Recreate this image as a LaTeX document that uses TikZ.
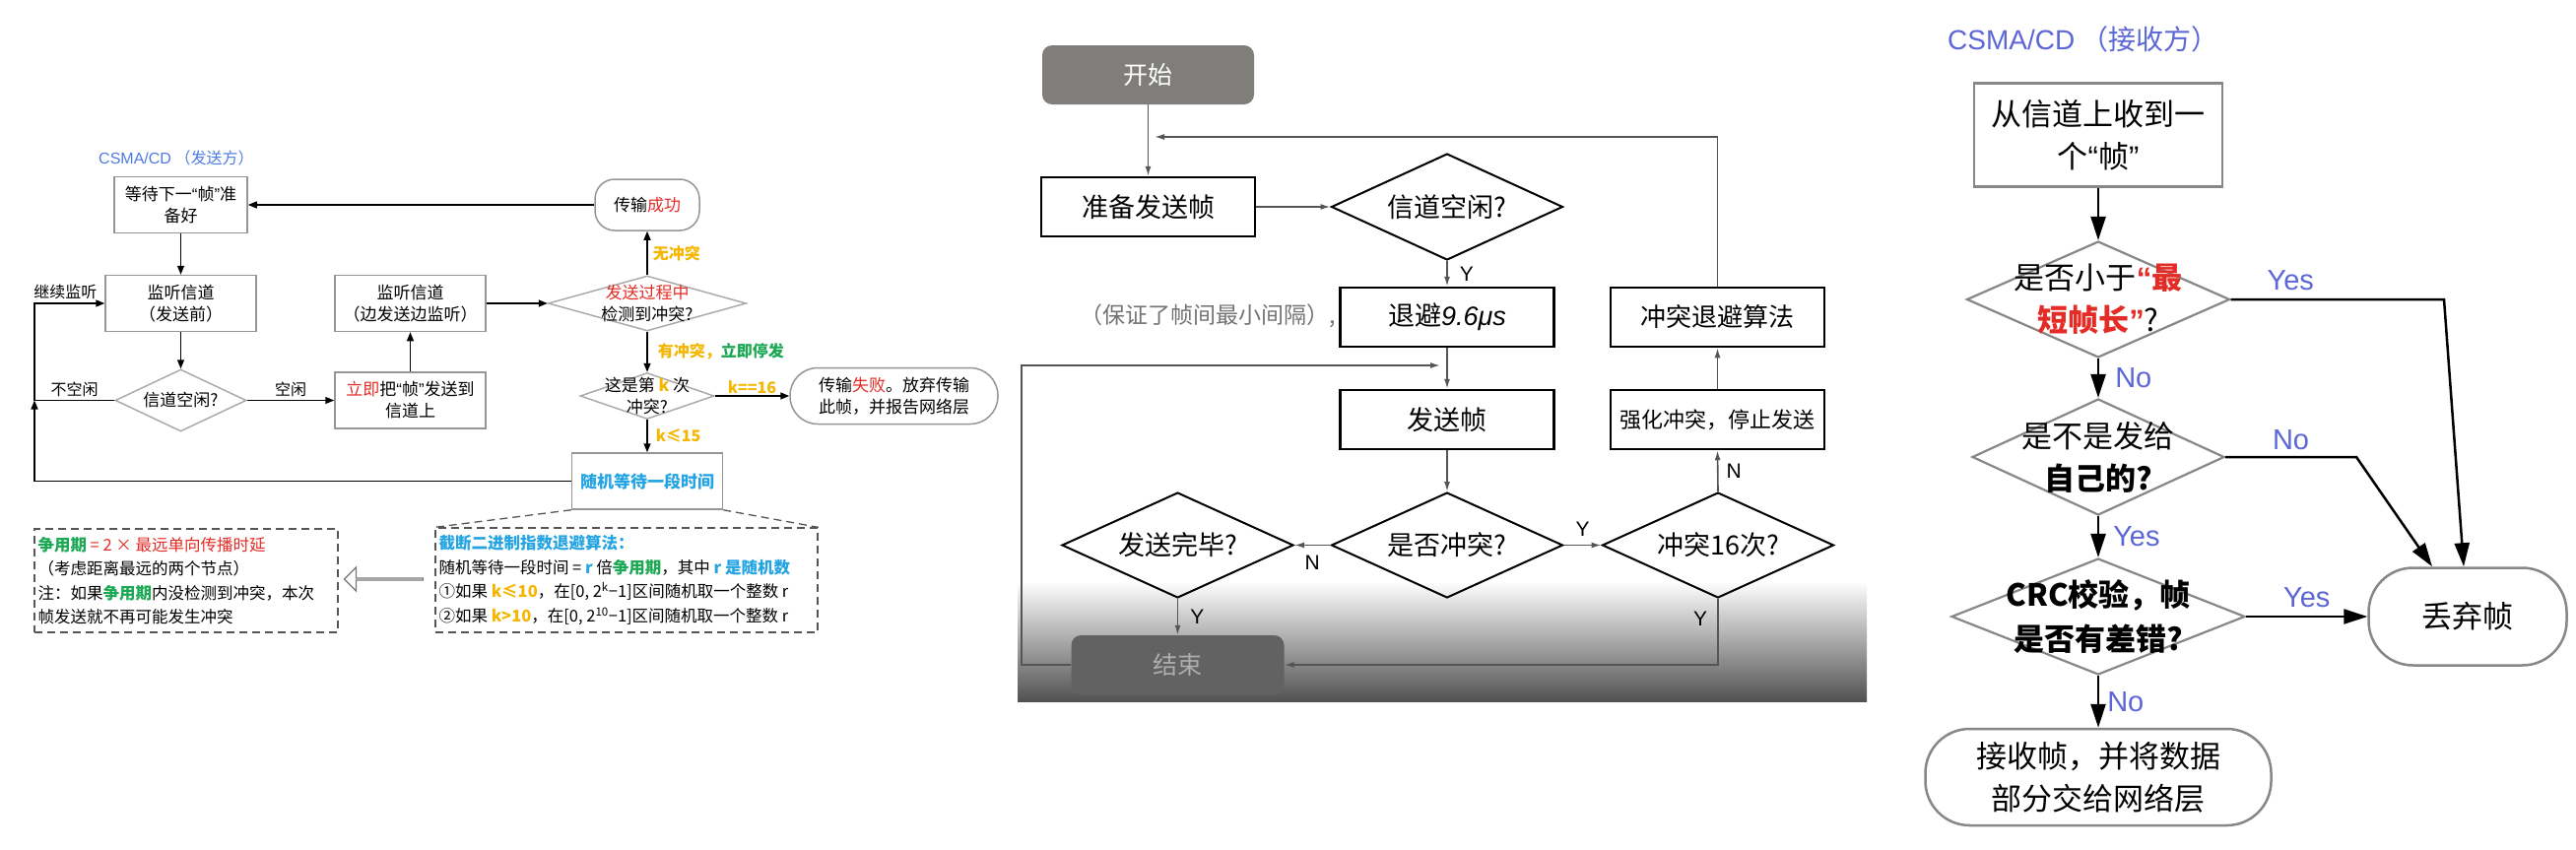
\documentclass[tikz,border=0pt]{standalone}
\usepackage{fontspec}
\setmainfont{Noto Sans CJK SC}
\newfontfamily\latinfont{Liberation Sans}
\usepackage{xcolor}
\usepackage{tikz}
\usetikzlibrary{arrows.meta, shapes.geometric, shapes.arrows}

\definecolor{sendblue}{RGB}{78,122,228}
\definecolor{recvblue}{RGB}{92,102,214}
\definecolor{hiyellow}{RGB}{245,182,0}
\definecolor{higreen}{RGB}{28,168,84}
\definecolor{hired}{RGB}{228,44,38}
\definecolor{hisky}{RGB}{36,164,226}
\definecolor{edgegray}{RGB}{150,150,150}
\definecolor{wiregray}{RGB}{85,85,85}
\definecolor{startgray}{RGB}{128,126,122}
\definecolor{finishgray}{RGB}{98,98,98}

\newcommand{\fs}[2]{\fontsize{#1}{#2}\selectfont}
\newcommand{\qo}{{\latinfont “}}
\newcommand{\qc}{{\latinfont ”}}

\begin{document}
\begin{tikzpicture}[
    x=1pt, y=-1pt,
    % sender panel
    sbox/.style={rectangle, draw=edgegray, line width=1.5pt, minimum width=153pt, minimum height=57pt, inner sep=2pt, align=center, font=\fs{17}{22}},
    sdia/.style={diamond, draw=edgegray!80, line width=1.5pt, inner sep=0pt},
    spill/.style={sbox, rounded corners=#1},
    stxt/.style={align=center, font=\fs{17}{22}},
    dline/.style={draw=wiregray, dash pattern=on 8pt off 5pt, line width=1.3pt},
    snote/.style={rectangle, dline, inner sep=0pt},
    ntxt/.style={align=left, font=\fs{16.5}{24.5}, inner sep=0pt, anchor=west},
    slbl/.style={font=\fs{16}{19}\bfseries, text=hiyellow, inner sep=2pt},
    larr/.style={-{Triangle[length=9pt, width=7pt]}, line width=1.5pt},
    % flow panel
    mbox/.style={rectangle, draw, line width=2.5pt, minimum width=217pt, minimum height=60pt, font=\fs{27}{32}},
    mdia/.style={diamond, draw, line width=2pt, minimum width=235pt, minimum height=107pt, inner sep=0pt},
    mtxt/.style={font=\fs{27}{32}},
    myn/.style={font=\latinfont\fs{21}{24}, inner sep=2pt},
    marr/.style={draw=wiregray, -{Latex[length=10pt, width=6pt]}, line width=1.6pt},
    % receiver panel
    rbox/.style={rectangle, draw=edgegray!90!black, line width=2.5pt, align=center, font=\fs{31}{43}},
    rdia/.style={diamond, draw=edgegray!90!black, line width=2.2pt, inner sep=0pt, minimum height=118pt},
    rtxt/.style={align=center, font=\fs{31}{43}},
    ryn/.style={font=\latinfont\fs{29}{32}, text=recvblue, inner sep=2pt},
    rarr/.style={-{Triangle[length=24pt, width=15pt]}, line width=2.5pt},
]
    % Canvas
    \fill[white] (0,0) rectangle (2615,862);
    \useasboundingbox (0,0) rectangle (2615,862);

    % ===== Sender =====
    \node[font=\fs{16}{19}, text=sendblue, anchor=west, inner sep=0pt] (stitle) at (100,160) {{\latinfont CSMA/CD} （发送方）};

    \node[sbox, minimum width=135pt] (wait) at (183.5,208) {等待下一\qo 帧\qc 准\\备好};
    \node[sbox] (listen) at (183.5,308) {监听信道\\（发送前）};
    \node[sdia, minimum width=133pt, minimum height=63pt, label={[stxt]center:信道空闲?}] (idle) at (183.5,406.5) {};
    \node[sbox] (put) at (416.5,406.5) {{\color{hired}立即}把\qo 帧\qc 发送到\\信道上};
    \node[sbox] (listen2) at (416.5,308) {监听信道\\（边发送边监听）};
    \node[sdia, minimum width=201pt, minimum height=56pt, label={[stxt]center:{{\color{hired}发送过程中}\\检测到冲突?}}] (detect) at (657,308) {};
    \node[spill=20pt, minimum width=106pt, minimum height=52pt] (success) at (657,208) {传输{\color{hired}成功}};
    \node[sdia, minimum width=136pt, minimum height=47pt, label={[stxt]center:{这是第 {\color{hiyellow}\bfseries k} 次\\冲突?}}] (kth) at (657,402) {};
    \node[spill=28pt, minimum width=211pt, minimum height=57pt] (fail) at (907.5,402) {传输{\color{hired}失败}。放弃传输\\此帧，并报告网络层};
    \node[sbox, font=\fs{17}{22}\bfseries, text=hisky] (backoff) at (657,488.5) {随机等待一段时间};
    \coordinate (loopjoin) at (35,406.5);

    % Notes
    \node[snote, minimum width=388pt, minimum height=106pt] (algo) at (636,589) {};
    \node[ntxt] (algotxt) at ([xshift=4pt]algo.west) {{\color{hisky}\bfseries 截断二进制指数退避算法：}\\
        随机等待一段时间 = {\color{hisky}\bfseries r} 倍{\color{higreen}\bfseries 争用期}，其中 {\color{hisky}\bfseries r 是随机数}\\
        ①如果 {\color{hiyellow}\bfseries k≤10}，在[0, 2\textsuperscript{k}−1]区间随机取一个整数 r\\
        ②如果 {\color{hiyellow}\bfseries k>10}，在[0, 2\textsuperscript{10}−1]区间随机取一个整数 r};
    \node[snote, minimum width=308pt, minimum height=105pt] (contend) at (189,589.5) {};
    \node[ntxt] (contendtxt) at ([xshift=4pt]contend.west) {{\color{higreen}\bfseries 争用期} {\color{hired}= 2 × 最远单向传播时延}\\
        （考虑距离最远的两个节点）\\
        注：如果{\color{higreen}\bfseries 争用期}内没检测到冲突，本次\\
        帧发送就不再可能发生冲突};
    \node[single arrow, draw=wiregray!80, line width=1.2pt, shape border rotate=180, minimum height=80pt, minimum width=24pt, single arrow head extend=6pt, single arrow head indent=0pt, inner sep=0pt] (hint) at (390,588) {};

    % Sender arrows
    \draw[larr] (wait) -- (listen);
    \draw[larr] (listen) -- (idle);
    \draw[larr] (idle.east) -- node[stxt, above, font=\fs{16}{19}] {空闲} (put.west);
    \draw[larr] (put) -- (listen2);
    \draw[larr] (listen2.east) -- (detect.west);
    \draw[larr] (detect.north) -- node[slbl, right=3pt] {无冲突} (success.south);
    \draw[larr] (success.west) -- (wait.east);
    \draw[larr] (detect.south) -- node[slbl, right=8pt] {有冲突，{\color{higreen}立即停发}} (kth.north);
    \draw[larr] (kth.east) -- node[slbl, above] {k==16} (fail.west);
    \draw[larr] (kth.south) -- node[slbl, right=6pt] {k≤15} (backoff.north);
    \draw[larr] (backoff.west) -| (loopjoin);
    \draw[larr] (idle.west) -- node[stxt, above, font=\fs{16}{19}] {不空闲} (loopjoin) |- node[stxt, pos=0.72, above, font=\fs{16}{19}] {继续监听} (listen.west);
    \draw[dline] (backoff.south west) -- (algo.north west);
    \draw[dline] (backoff.south east) -- (algo.north east);

    % ===== Flow =====
    \fill[top color=white, middle color=black!14, bottom color=black!68] (1033,590) rectangle (1895,712);

    \node[rectangle, rounded corners=10pt, fill=startgray, text=white, minimum width=215pt, minimum height=60pt, font=\fs{25}{30}] (start) at (1165.5,76) {开始};
    \node[mbox] (prep) at (1165.5,210) {准备发送帧};
    \node[mdia, minimum height=108pt, label={[mtxt]center:信道空闲?}] (free) at (1469,210) {};
    \node[mbox] (defer) at (1469,322) {退避{\latinfont\itshape 9.6μs}};
    \node[mbox] (sendf) at (1469,426) {发送帧};
    \node[mdia, label={[mtxt]center:是否冲突?}] (coll) at (1469,553.5) {};
    \node[mdia, label={[mtxt]center:发送完毕?}] (done) at (1195.5,553.5) {};
    \node[rectangle, rounded corners=10pt, fill=finishgray, text=white!68!black, minimum width=216pt, minimum height=60pt, font=\fs{25}{30}] (finish) at (1195.5,675) {结束};
    \node[mdia, label={[mtxt]center:冲突16次?}] (c16) at (1744,553.5) {};
    \node[mbox, font=\fs{22}{26}] (jam) at (1743.5,426) {强化冲突，停止发送};
    \node[mbox, font=\fs{26}{30}] (bkoff) at (1743.5,322) {冲突退避算法};
    \node[font=\fs{23}{27}, text=black!55, anchor=east, inner sep=0pt] (gap) at (1356,321) {（保证了帧间最小间隔）,};
    \coordinate (topjoin) at (1172,139);
    \coordinate (sidejoin) at (1462,371);
    \coordinate (sidecorner) at (1037,675);

    % Flow arrows
    \draw[marr] (start) -- (prep);
    \draw[marr] (prep.east) -- (free.west);
    \draw[marr] (free.south) -- node[myn, right=10pt] {Y} (defer.north);
    \draw[marr] (defer) -- (sendf);
    \draw[marr] (sendf.south) -- (coll.north);
    \draw[marr] (coll.west) -- node[myn, below=8pt] {N} (done.east);
    \draw[marr] (done.south) -- node[myn, right=10pt] {Y} (finish.north);
    \draw[marr] (coll.east) -- node[myn, above=6pt] {Y} (c16.west);
    \draw[marr] (c16.north) -- node[myn, right=6pt] {N} (jam.south);
    \draw[marr] (jam) -- (bkoff);
    \draw[marr] (bkoff.north) |- (topjoin);
    \draw[marr] (c16.south) |- node[myn, pos=0.15, left=8pt] {Y} (finish.east);
    \draw[marr] (finish.west) -- (sidecorner) |- (sidejoin);

    % ===== Receiver =====
    \node[font=\fs{28}{32}, text=recvblue, anchor=west, inner sep=0pt] (rtitle) at (1977,40) {{\latinfont CSMA/CD} （接收方）};

    \node[rbox, minimum width=252pt, minimum height=105pt] (recv) at (2130,137) {从信道上收到一\\个\qo 帧\qc};
    \node[rdia, minimum width=267pt, label={[rtxt]center:{是否小于{\color{hired}\bfseries \qo 最}\\{\color{hired}\bfseries 短帧长\qc}?}}] (short) at (2130,304) {};
    \node[rdia, minimum width=256pt, label={[rtxt]center:{是不是发给\\{\bfseries 自己的?}}}] (mine) at (2130,464) {};
    \node[rdia, minimum width=298pt, label={[rtxt, font=\fs{31}{45}\bfseries]center:{CRC校验，帧\\是否有差错?}}] (crc) at (2130,626) {};
    \node[rbox, rounded corners=45pt, minimum width=201pt, minimum height=99pt] (drop) at (2505,626) {丢弃帧};
    \node[rbox, rounded corners=45pt, minimum width=351pt, minimum height=98pt] (accept) at (2130,789) {接收帧，并将数据\\部分交给网络层};
    \coordinate (shortbend) at (2481,304);
    \coordinate (minebend) at (2392,464);

    % Receiver arrows
    \draw[rarr] (recv) -- (short);
    \draw[rarr] (short.south) -- node[ryn, right=14pt] {No} (mine.north);
    \draw[rarr] (mine.south) -- node[ryn, right=12pt] {Yes} (crc.north);
    \draw[rarr] (crc.south) -- node[ryn, right=6pt] {No} (accept.north);
    \draw[rarr] (crc.east) -- node[ryn, above=6pt] {Yes} (drop.west);
    \draw[rarr] (short.east) -- node[ryn, pos=0.28, above=6pt] {Yes} (shortbend) -- ([xshift=-4pt]drop.north);
    \draw[rarr] (mine.east) -- node[ryn, above=4pt] {No} (minebend) -- ([xshift=-36pt]drop.north);

\end{tikzpicture}
\end{document}
